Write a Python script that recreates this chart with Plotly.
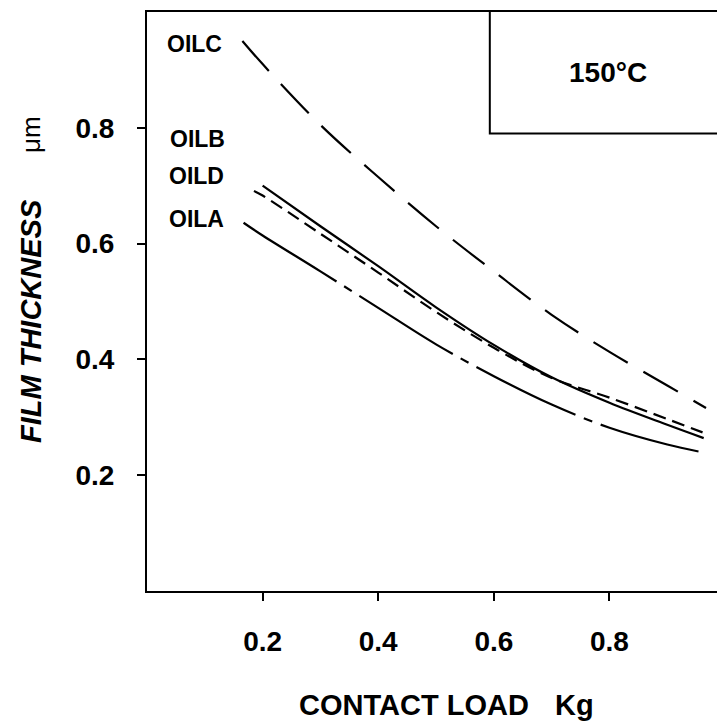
import plotly.graph_objects as go

# Film thickness versus contact load at 150 °C for four oils
oil_c_load = [0.165, 0.2, 0.3, 0.4, 0.5, 0.6, 0.7, 0.8, 0.9, 0.967]
oil_c_film = [0.95, 0.91, 0.805, 0.715, 0.63, 0.552, 0.477, 0.413, 0.355, 0.316]

oil_b_load = [0.2, 0.3, 0.4, 0.5, 0.6, 0.7, 0.8, 0.9, 0.963]
oil_b_film = [0.70, 0.63, 0.561, 0.49, 0.425, 0.369, 0.325, 0.287, 0.264]

oil_d_load = [0.185, 0.2, 0.3, 0.4, 0.5, 0.6, 0.7, 0.8, 0.9, 0.961]
oil_d_film = [0.691, 0.683, 0.617, 0.55, 0.482, 0.42, 0.368, 0.334, 0.297, 0.274]

oil_a_load = [0.167, 0.2, 0.3, 0.4, 0.5, 0.6, 0.7, 0.8, 0.9, 0.954]
oil_a_film = [0.636, 0.614, 0.552, 0.489, 0.426, 0.371, 0.322, 0.282, 0.253, 0.241]

x_ticks = [0.2, 0.4, 0.6, 0.8]
y_ticks = [0.2, 0.4, 0.6, 0.8]

FONT = "Liberation Sans"
INK = "black"

series = [
    ("OILC", oil_c_load, oil_c_film, "40px,18px"),
    ("OILB", oil_b_load, oil_b_film, "solid"),
    ("OILD", oil_d_load, oil_d_film, "13px,7px"),
    ("OILA", oil_a_load, oil_a_film, "110px,9px,9px,9px"),
]

fig = go.Figure()
for name, xs, ys, dash in series:
    fig.add_trace(go.Scatter(
        x=xs, y=ys, mode="lines", name=name,
        line=dict(color=INK, width=2.2, dash=dash, shape="spline"),
        showlegend=False,
    ))

# Curve labels at the left ends of the curves
label_pos = {"OILC": (0.083, 0.944), "OILB": (0.088, 0.781),
             "OILD": (0.086, 0.717), "OILA": (0.086, 0.643)}
for name, (lx, ly) in label_pos.items():
    fig.add_annotation(x=lx, y=ly, xref="x", yref="y", text=f"<b>{name}</b>",
                       showarrow=False, xanchor="center", yanchor="middle",
                       font=dict(family=FONT, size=23, color=INK))

# Temperature box in the upper-right corner
fig.add_shape(type="path", xref="x", yref="y",
              path="M 0.986,0.79 L 0.593,0.79 L 0.593,1.0",
              line=dict(color=INK, width=2))
fig.add_annotation(x=0.798, y=0.895, xref="x", yref="y", text="<b>150°C</b>",
                   showarrow=False, xanchor="center", yanchor="middle",
                   font=dict(family=FONT, size=28, color=INK))

W, H = 717, 728
L, R, T, B = 147, 0, 12, 137


def paper_xy(px, py):
    """Pixel position on the page -> paper coordinates of the plot area."""
    return (px - L) / (W - L - R), (H - B - py) / (H - T - B)


# Axis titles
for text, px, py, angle, size, style in [
    ("<b>CONTACT LOAD</b>", 414, 705, 0, 29, "normal"),
    ("<b>Kg</b>", 574, 705, 0, 29, "normal"),
    ("<b>FILM THICKNESS</b>", 31, 321, -90, 29, "italic"),
    ("μm", 31, 135, -90, 26, "normal"),
]:
    ax, ay = paper_xy(px, py)
    fig.add_annotation(x=ax, y=ay, xref="paper", yref="paper", text=text,
                       textangle=angle, showarrow=False,
                       xanchor="center", yanchor="middle",
                       font=dict(family=FONT, size=size, color=INK, style=style))

fig.update_layout(
    width=W, height=H,
    margin=dict(l=L, r=R, t=T, b=B, pad=0),
    paper_bgcolor="white", plot_bgcolor="white",
    font=dict(family=FONT, color=INK),
    xaxis=dict(range=[0, 0.986], tickvals=x_ticks,
               ticktext=[f"<b>{v:.1f}</b>" for v in x_ticks],
               ticks="outside", ticklen=8, tickwidth=2, tickcolor=INK,
               showline=True, linewidth=2, linecolor=INK, mirror=True,
               showgrid=False, zeroline=False, ticklabelstandoff=16,
               tickfont=dict(family=FONT, size=28, color=INK)),
    yaxis=dict(range=[0, 1.0], tickvals=y_ticks,
               ticktext=[f"<b>{v:.1f}</b>" for v in y_ticks],
               ticks="outside", ticklen=8, tickwidth=2, tickcolor=INK,
               showline=True, linewidth=2, linecolor=INK, mirror=False,
               showgrid=False, zeroline=False, ticklabelstandoff=17,
               tickfont=dict(family=FONT, size=28, color=INK)),
)

fig.write_html("out.html")
